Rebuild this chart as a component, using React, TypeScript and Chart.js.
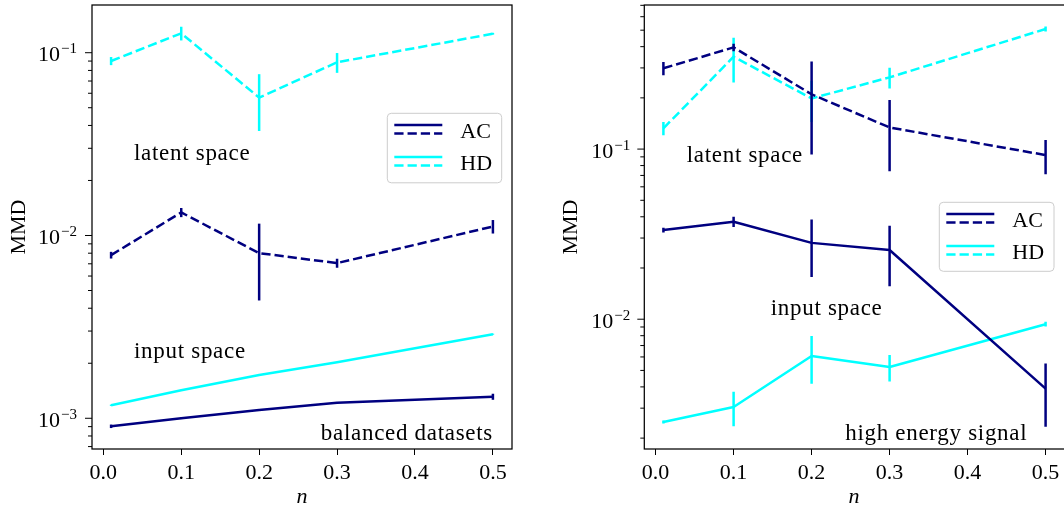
import React, { useEffect, useRef } from "react";
import { Chart, registerables } from "chart.js";

Chart.register(...registerables);

// ---------------- data ----------------
const nValues = [0.01, 0.1, 0.2, 0.3, 0.5];
const xTickValues = [0, 0.1, 0.2, 0.3, 0.4, 0.5];
const xTickLabels = ["0.0", "0.1", "0.2", "0.3", "0.4", "0.5"];
const seriesNames = ["AC", "HD"];

// balanced datasets (left panel)
const balancedACInput = [0.000904, 0.001, 0.00111, 0.001217, 0.001312];
const balancedACInputErr = [0.00002, 0.00001, 0.00001, 0.00001, 0.00005];
const balancedACLatent = [0.00781, 0.01337, 0.00801, 0.00706, 0.0112];
const balancedACLatentErr = [0.00033, 0.00077, 0.0036, 0.0004, 0.00095];
const balancedHDInput = [0.001178, 0.001422, 0.001725, 0.002023, 0.002884];
const balancedHDInputErr = [0.00001, 0.00001, 0.00001, 0.00001, 0.00002];
const balancedHDLatent = [0.0901, 0.1277, 0.0568, 0.0886, 0.127];
const balancedHDLatentErr = [0.0046, 0.011, 0.0195, 0.011, 0.0015];

// high energy signal (right panel)
const signalACInput = [0.0334, 0.0374, 0.0281, 0.0255, 0.00391];
const signalACInputErr = [0.0011, 0.0026, 0.0104, 0.0099, 0.00158];
const signalACLatent = [0.2985, 0.396, 0.2099, 0.134, 0.0922];
const signalACLatentErr = [0.027, 0.02, 0.117, 0.06, 0.021];
const signalHDInput = [0.00249, 0.00305, 0.00608, 0.00524, 0.00935];
const signalHDInputErr = [0.00005, 0.0007, 0.0019, 0.00093, 0.0003];
const signalHDLatent = [0.1324, 0.349, 0.1985, 0.264, 0.508];
const signalHDLatentErr = [0.012, 0.103, 0.054, 0.037, 0.017];

// ---------------- style ----------------
const FONT = "'Liberation Serif', 'DejaVu Serif', serif";
const AC_COLOR = "#000080";
const HD_COLOR = "#00ffff";
const LW = 2.5;
const DASH = [9.25, 4];
const X_MIN = -0.0145;
const X_MAX = 0.5245;
const H = 508;

type Panel = {
  width: number;
  offset: number;
  area: { left: number; right: number; top: number; bottom: number };
  yMin: number;
  yMax: number;
  series: { name: string; color: string; dashed: boolean; values: number[]; errs: number[] }[];
  notes: { text: string; x: number; y: number; align: CanvasTextAlign }[];
  legend: { x: number; y: number; w: number; h: number };
  yLabel: { x: number; y: number };
  xLabel: { x: number; y: number };
  yLabelGap: number;
};

const panels: Panel[] = [
  {
    width: 530,
    offset: 0,
    area: { left: 92, right: 512, top: 5, bottom: 449 },
    yMin: 6.79e-4,
    yMax: 0.1824,
    series: [
      { name: seriesNames[0], color: AC_COLOR, dashed: false, values: balancedACInput, errs: balancedACInputErr },
      { name: seriesNames[0], color: AC_COLOR, dashed: true, values: balancedACLatent, errs: balancedACLatentErr },
      { name: seriesNames[1], color: HD_COLOR, dashed: false, values: balancedHDInput, errs: balancedHDInputErr },
      { name: seriesNames[1], color: HD_COLOR, dashed: true, values: balancedHDLatent, errs: balancedHDLatentErr },
    ],
    notes: [
      { text: "latent space", x: 134, y: 160, align: "left" },
      { text: "input space", x: 134, y: 358, align: "left" },
      { text: "balanced datasets", x: 493, y: 440, align: "right" },
    ],
    legend: { x: 387.3, y: 113.3, w: 114.4, h: 69.5 },
    yLabel: { x: 25, y: 227 },
    xLabel: { x: 302, y: 503 },
    yLabelGap: 15,
  },
  {
    width: 536,
    offset: 530,
    area: { left: 114.3, right: 534.7, top: 5, bottom: 449 },
    yMin: 0.001726,
    yMax: 0.703,
    series: [
      { name: seriesNames[0], color: AC_COLOR, dashed: false, values: signalACInput, errs: signalACInputErr },
      { name: seriesNames[0], color: AC_COLOR, dashed: true, values: signalACLatent, errs: signalACLatentErr },
      { name: seriesNames[1], color: HD_COLOR, dashed: false, values: signalHDInput, errs: signalHDInputErr },
      { name: seriesNames[1], color: HD_COLOR, dashed: true, values: signalHDLatent, errs: signalHDLatentErr },
    ],
    notes: [
      { text: "latent space", x: 156.7, y: 161.5, align: "left" },
      { text: "input space", x: 240.7, y: 315, align: "left" },
      { text: "high energy signal", x: 497.3, y: 440, align: "right" },
    ],
    legend: { x: 409.3, y: 202.3, w: 114.7, h: 69 },
    yLabel: { x: 47.3, y: 227 },
    xLabel: { x: 324, y: 503 },
    yLabelGap: 14,
  },
];

function drawDecor(chart: any, panel: Panel) {
  const ctx: CanvasRenderingContext2D = chart.ctx;
  const { left, right, top, bottom } = chart.chartArea;
  const ys = chart.scales.y;
  ctx.save();

  // spines
  ctx.strokeStyle = "#000";
  ctx.lineWidth = 1.25;
  ctx.setLineDash([]);
  ctx.strokeRect(left, top, right - left, bottom - top);

  // y ticks (log, major + minor)
  ctx.lineWidth = 1;
  const lo = Math.floor(Math.log10(ys.min));
  const hi = Math.ceil(Math.log10(ys.max));
  for (let k = lo; k <= hi; k++) {
    for (let m = 1; m <= 9; m++) {
      const v = m * Math.pow(10, k);
      if (v < ys.min || v > ys.max) continue;
      const py = ys.getPixelForValue(v);
      const len = m === 1 ? 7 : 4;
      ctx.beginPath();
      ctx.moveTo(left - len, py);
      ctx.lineTo(left, py);
      ctx.stroke();
      if (m === 1) {
        const sup = (k < 0 ? "\u2212" : "") + Math.abs(k);
        ctx.fillStyle = "#000";
        ctx.textAlign = "right";
        ctx.textBaseline = "alphabetic";
        ctx.font = `15px ${FONT}`;
        const supW = ctx.measureText(sup).width;
        const xr = left - panel.yLabelGap;
        ctx.fillText(sup, xr, py + 0.5);
        ctx.font = `22px ${FONT}`;
        ctx.fillText("10", xr - supW - 1, py + 8.5);
      }
    }
  }

  // axis labels
  ctx.fillStyle = "#000";
  ctx.font = `22px ${FONT}`;
  ctx.textAlign = "center";
  ctx.textBaseline = "alphabetic";
  ctx.save();
  ctx.translate(panel.yLabel.x, panel.yLabel.y);
  ctx.rotate(-Math.PI / 2);
  ctx.fillText("MMD", 0, 0);
  ctx.restore();
  ctx.font = `italic 22px ${FONT}`;
  ctx.fillText("n", panel.xLabel.x, panel.xLabel.y);

  // annotations
  ctx.font = `23px ${FONT}`;
  (ctx as any).letterSpacing = "0.7px";
  for (const note of panel.notes) {
    ctx.textAlign = note.align;
    ctx.fillText(note.text, note.x, note.y);
  }
  (ctx as any).letterSpacing = "0px";

  // legend
  const lg = panel.legend;
  ctx.beginPath();
  (ctx as any).roundRect(lg.x, lg.y, lg.w, lg.h, 4);
  ctx.fillStyle = "rgba(255,255,255,0.8)";
  ctx.fill();
  ctx.strokeStyle = "#cccccc";
  ctx.lineWidth = 1;
  ctx.stroke();
  const rows = [
    { name: seriesNames[0], color: AC_COLOR, dy: 0 },
    { name: seriesNames[1], color: HD_COLOR, dy: 32 },
  ];
  for (const r of rows) {
    const hx0 = lg.x + 7;
    const hx1 = lg.x + 55;
    ctx.strokeStyle = r.color;
    ctx.lineWidth = LW;
    ctx.setLineDash([]);
    ctx.beginPath();
    ctx.moveTo(hx0, lg.y + 11.7 + r.dy);
    ctx.lineTo(hx1, lg.y + 11.7 + r.dy);
    ctx.stroke();
    ctx.setLineDash(DASH);
    ctx.beginPath();
    ctx.moveTo(hx0, lg.y + 20.2 + r.dy);
    ctx.lineTo(hx1, lg.y + 20.2 + r.dy);
    ctx.stroke();
    ctx.setLineDash([]);
    ctx.fillStyle = "#000";
    ctx.textAlign = "left";
    ctx.font = `22px ${FONT}`;
    ctx.fillText(r.name, lg.x + 73, lg.y + 24.3 + r.dy);
  }
  ctx.restore();
}

function PanelChart({ panel }: { panel: Panel }) {
  const ref = useRef<HTMLCanvasElement | null>(null);
  useEffect(() => {
    if (!ref.current) return;
    const datasets = panel.series.map((s) => ({
      label: s.name,
      data: nValues.map((x, i) => ({ x, y: s.values[i] })),
      errs: s.errs,
      borderColor: s.color,
      backgroundColor: s.color,
      borderWidth: LW,
      borderDash: s.dashed ? DASH : [],
      borderCapStyle: "butt",
      borderJoinStyle: "round",
      pointRadius: 0,
      tension: 0,
      fill: false,
    }));
    const errorBars = {
      id: "errorBars",
      afterDatasetDraw(chart: any, args: any) {
        const ds: any = chart.data.datasets[args.index];
        if (!ds.errs) return;
        const ctx: CanvasRenderingContext2D = chart.ctx;
        const xs = chart.scales.x;
        const ys = chart.scales.y;
        const a = chart.chartArea;
        ctx.save();
        ctx.beginPath();
        ctx.rect(a.left, a.top, a.right - a.left, a.bottom - a.top);
        ctx.clip();
        ctx.strokeStyle = ds.borderColor;
        ctx.lineWidth = ds.borderWidth;
        ctx.setLineDash([]);
        ds.data.forEach((p: any, i: number) => {
          const e = ds.errs[i];
          const px = xs.getPixelForValue(p.x);
          const y1 = ys.getPixelForValue(p.y + e);
          const y2 = ys.getPixelForValue(Math.max(p.y - e, 1e-12));
          ctx.beginPath();
          ctx.moveTo(px, y1);
          ctx.lineTo(px, y2);
          ctx.stroke();
        });
        ctx.restore();
      },
    };
    const decor = {
      id: "decor",
      afterDraw(chart: any) {
        drawDecor(chart, panel);
      },
    };
    const chart = new Chart(ref.current, {
      type: "line",
      data: { datasets: datasets as any },
      options: {
        responsive: false,
        animation: false,
        devicePixelRatio: 1,
        layout: {
          padding: { left: 0, right: panel.width - panel.area.right, top: panel.area.top, bottom: 0 },
        },
        plugins: { legend: { display: false }, tooltip: { enabled: false } },
        scales: {
          x: {
            type: "linear",
            min: X_MIN,
            max: X_MAX,
            afterBuildTicks: (s: any) => {
              s.ticks = xTickValues.map((v) => ({ value: v }));
            },
            afterFit: (s: any) => {
              s.height = H - panel.area.bottom;
            },
            grid: {
              display: true,
              drawOnChartArea: false,
              drawTicks: true,
              tickLength: 6,
              color: "#000",
              tickColor: "#000",
              lineWidth: 1,
            },
            border: { display: false },
            ticks: {
              color: "#000",
              font: { family: FONT, size: 22 },
              padding: 5,
              maxRotation: 0,
              autoSkip: false,
              callback: (_v: any, i: number) => xTickLabels[i],
            },
          },
          y: {
            type: "logarithmic",
            min: panel.yMin,
            max: panel.yMax,
            afterFit: (s: any) => {
              s.width = panel.area.left;
            },
            grid: { display: false },
            border: { display: false },
            ticks: { display: false },
          },
        },
      } as any,
      plugins: [errorBars, decor],
    });
    return () => chart.destroy();
  }, [panel]);
  return (
    <div style={{ position: "absolute", left: panel.offset, top: 0, width: panel.width, height: H }}>
      <canvas ref={ref} width={panel.width} height={H} style={{ display: "block" }} />
    </div>
  );
}

export default function App() {
  return (
    <div
      style={{
        position: "fixed",
        left: 0,
        top: 0,
        width: 1064,
        height: H,
        background: "#fff",
        overflow: "hidden",
      }}
    >
      {panels.map((p, i) => (
        <PanelChart key={i} panel={p} />
      ))}
    </div>
  );
}
